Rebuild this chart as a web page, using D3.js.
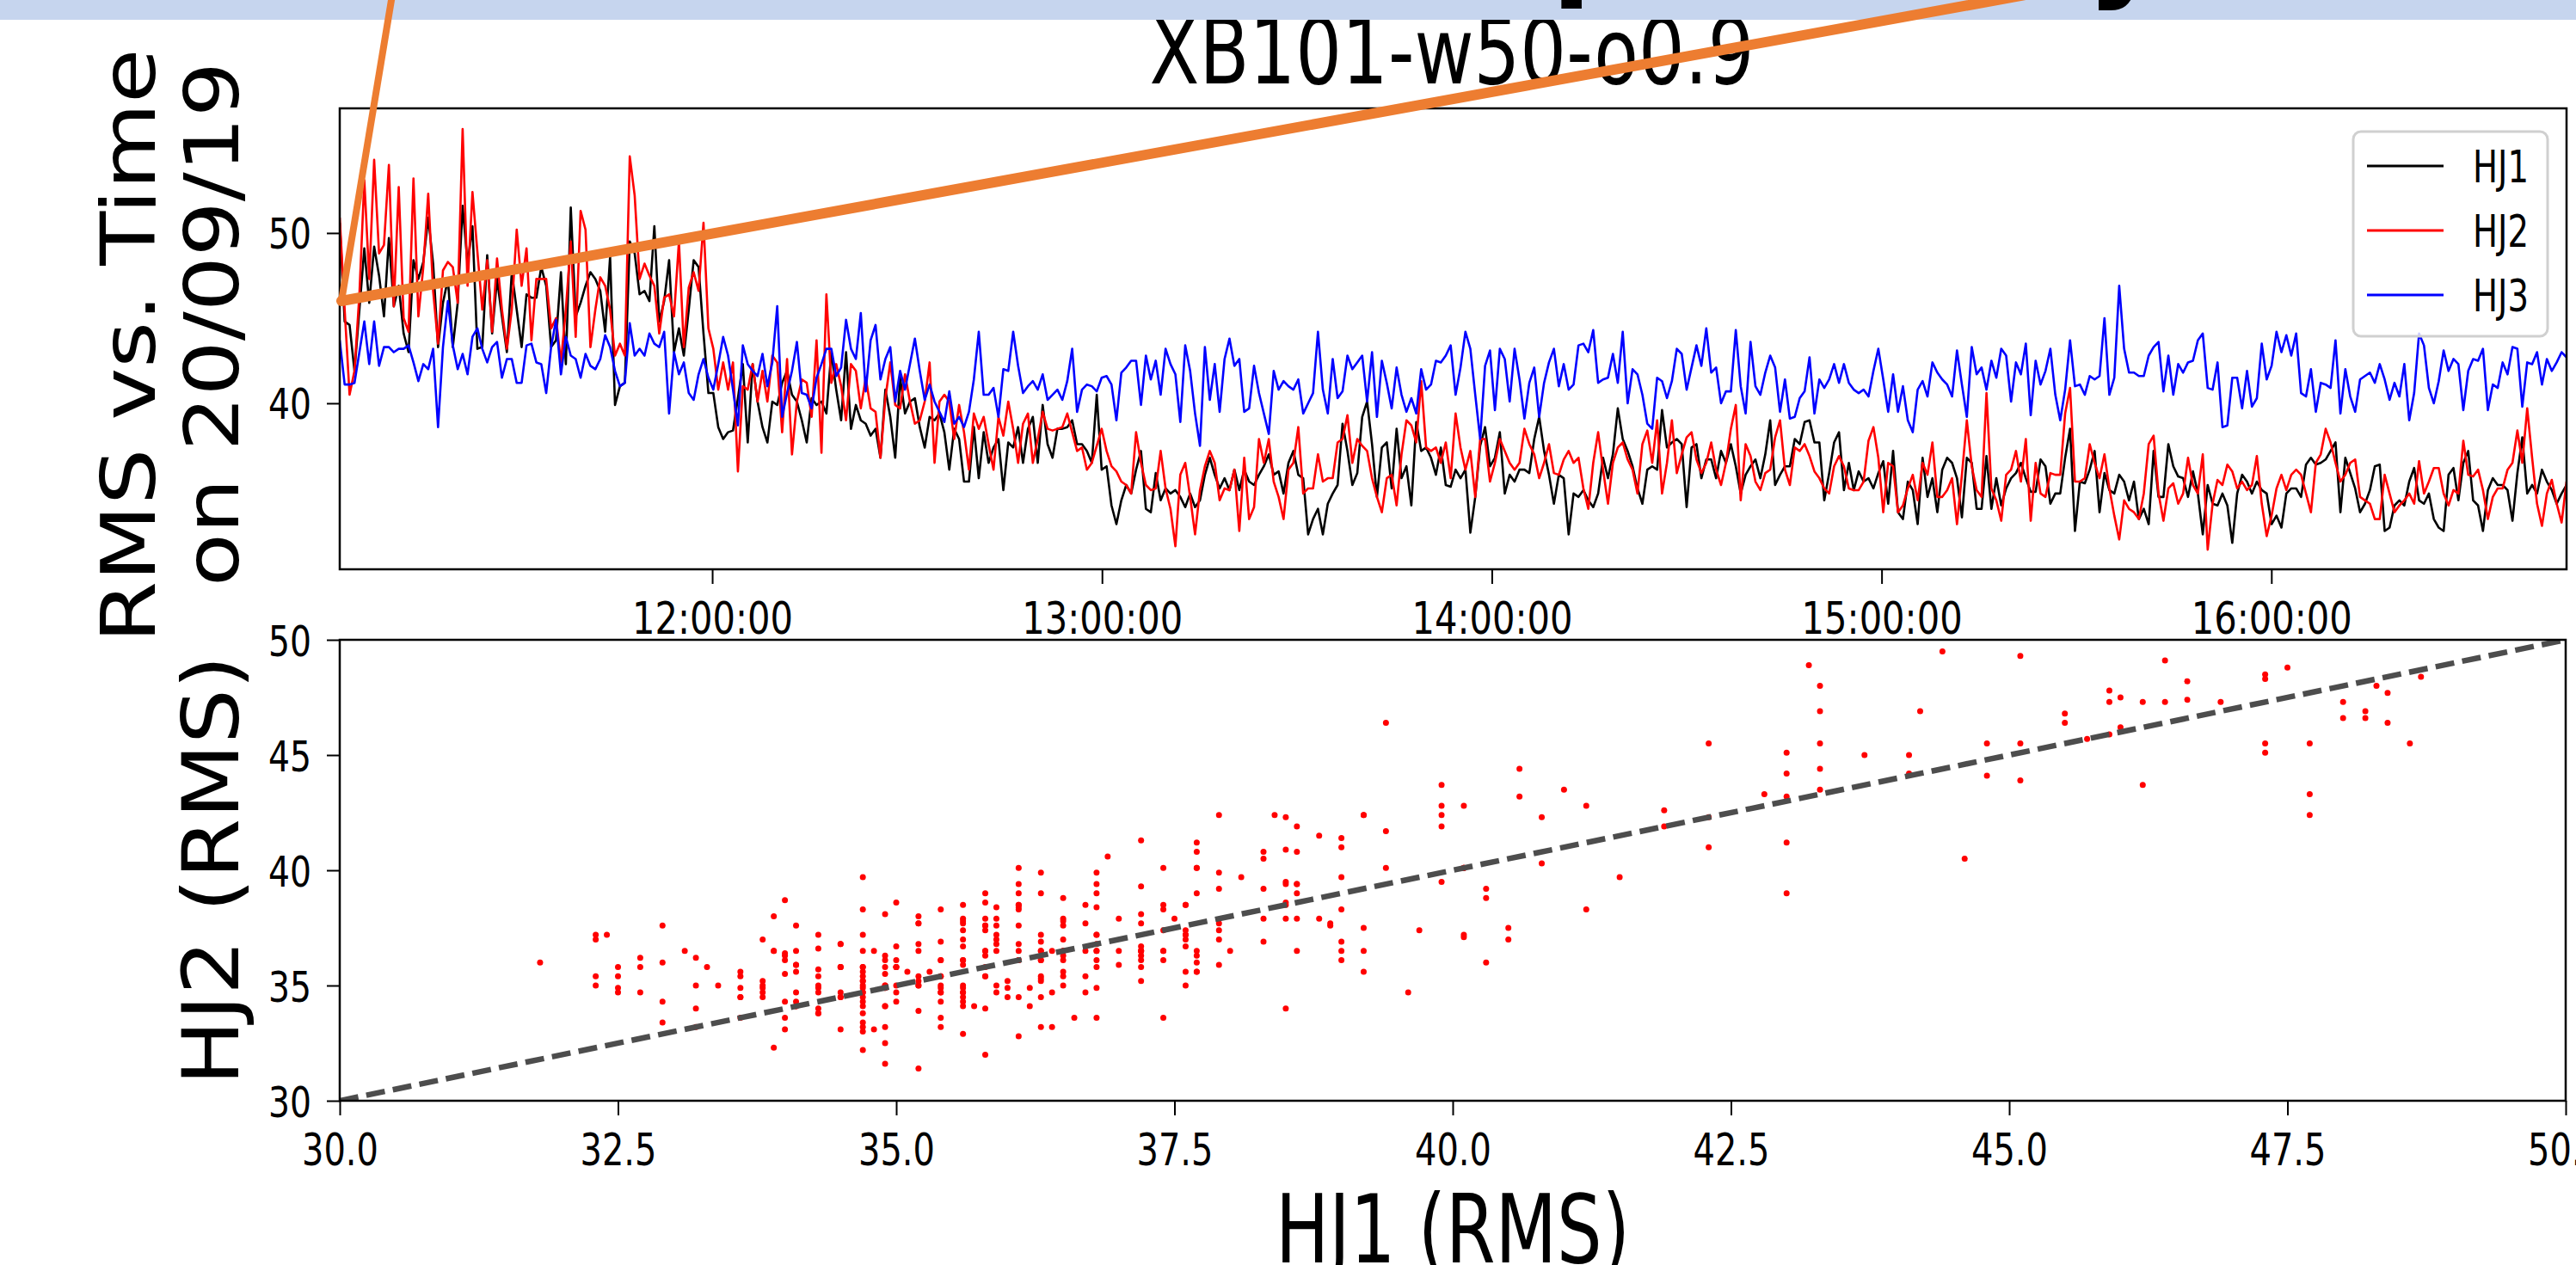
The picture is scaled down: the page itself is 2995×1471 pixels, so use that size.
<!DOCTYPE html>
<html><head><meta charset="utf-8">
<script src="https://cdn.jsdelivr.net/npm/d3@7"></script>
<style>html,body{margin:0;padding:0;background:#fff;}svg{display:block;}</style>
</head><body>
<svg id="chart" width="2995" height="1471"></svg>
<script>
// ---------------- DATA ----------------
const seriesNames = ["HJ1", "HJ2", "HJ3"];
const seriesColors = ["#000000", "#ff0000", "#0000ff"];
const startTime = "2019-09-20T11:02:40";
const sampleSeconds = 45.4;

const hj1 = [
50.6,44.8,44.6,41.9,45.5,49.1,45.9,49.2,47.5,45.1,
49.7,45.7,46.9,44.1,43.0,48.4,47.3,48.3,50.9,48.2,
43.3,45.9,47.3,43.3,45.9,51.6,48.2,50.4,43.2,43.3,
48.7,44.1,47.3,45.1,43.0,47.7,45.5,43.3,46.4,46.2,
46.2,48.0,46.9,43.3,43.7,47.7,42.3,51.5,45.1,45.9,
46.9,47.7,47.3,46.6,44.2,48.6,39.9,41.0,41.2,49.5,
48.8,46.4,46.6,46.0,50.4,44.8,46.0,48.4,43.0,44.4,
42.8,45.5,48.4,48.0,44.1,40.6,40.6,38.6,37.9,38.3,
38.4,40.3,42.3,37.7,42.3,40.1,38.6,37.7,40.1,39.9,
41.2,41.9,40.5,40.1,39.0,37.7,40.3,39.9,40.1,39.4,
43.0,40.8,39.0,43.0,38.5,39.9,39.0,38.8,38.1,38.5,
36.8,40.8,39.2,36.8,41.5,39.4,40.1,40.3,38.6,37.4,
39.2,39.0,39.4,38.3,36.1,38.5,37.9,35.4,35.4,38.6,
35.6,38.3,36.5,37.4,37.9,34.9,37.7,37.4,38.6,36.5,
38.5,39.2,36.5,39.9,37.6,36.8,38.5,38.5,38.6,39.0,
37.6,37.6,37.2,
36.5,40.5,36.1,36.3,34.0,32.9,34.3,35.2,34.7,36.1,
37.2,33.8,33.6,35.9,34.3,35.0,34.7,34.9,34.5,33.9,
34.7,33.9,34.3,35.8,36.8,35.8,35.0,35.6,34.9,36.1,
34.9,36.1,35.4,35.2,35.8,36.3,37.0,35.8,36.0,34.7,
36.5,37.2,35.8,35.6,32.3,33.2,33.8,32.3,34.1,34.7,
35.2,38.8,37.2,35.2,35.9,39.2,40.1,37.6,34.5,37.4,
37.7,35.0,38.5,35.6,36.3,34.0,38.9,37.2,37.4,36.8,
35.8,37.4,35.2,35.1,36.1,35.6,36.1,32.4,34.5,37.5,
38.6,36.3,36.8,38.3,34.7,35.8,35.4,36.1,36.1,35.9,
37.9,39.2,37.2,35.8,34.1,35.8,35.6,32.3,34.7,34.5,
34.9,34.3,33.9,34.7,36.8,35.6,37.0,39.7,37.9,37.2,
36.3,35.0,34.1,36.1,36.3,36.1,39.6,37.4,37.7,37.9,
37.6,33.9,37.4,37.6,35.6,36.7,36.7,35.6,37.2,36.5,
37.6,36.3,34.7,35.8,36.3,36.7,35.6,37.0,39.0,35.2,
35.8,36.3,36.3,37.9,37.6,38.9,39.0,37.7,37.7,34.3,
35.9,37.7,38.3,34.9,36.5,34.9,36.0,35.4,35.6,
35.0,35.9,36.6,34.1,37.2,33.6,33.2,35.4,34.9,32.9,
36.8,34.5,35.6,33.6,36.1,36.8,36.5,35.6,33.3,36.8,
36.5,33.8,33.8,36.9,33.8,35.6,34.0,35.0,35.6,35.9,
36.5,35.6,34.8,34.8,36.7,36.3,34.1,34.7,34.7,36.8,
38.5,32.5,35.4,35.3,36.1,37.2,33.6,35.9,34.9,34.7,
35.8,35.4,34.3,35.4,33.2,33.8,32.9,37.2,34.5,34.5,
37.6,36.3,35.7,35.6,34.5,36.0,34.7,32.3,35.2,34.1,
34.0,34.7,34.0,31.8,34.7,35.8,35.4,34.7,35.4,34.9,
34.7,32.9,33.4,32.7,34.7,35.0,35.0,34.5,36.4,36.8,
36.4,36.5,36.7,37.2,37.7,33.6,36.8,35.9,35.0,33.6,
34.1,34.9,36.3,36.4,32.5,32.7,34.0,34.3,34.0,35.4,
36.2,34.3,34.1,34.7,33.2,32.7,32.5,35.8,36.2,34.3,
36.5,37.2,34.3,34.0,32.5,34.9,35.6,35.2,35.2,34.9,
33.1,35.9,38.0,34.7,35.2,34.7,36.1,35.4,34.9,34.1,
34.7,35.2
];

const hj2 = [
50.9,45.5,40.5,41.9,46.4,53.1,47.3,54.3,48.8,49.3,
54.0,45.7,52.7,45.0,44.2,53.2,45.1,48.0,52.3,46.6,
43.5,47.8,48.3,48.0,45.9,56.1,46.9,52.4,48.9,45.5,
48.4,44.2,48.5,45.5,43.2,45.5,50.2,46.9,49.1,43.7,
47.3,47.3,47.3,44.4,45.0,42.4,45.5,49.5,43.9,51.3,
50.2,43.3,45.5,47.4,46.9,45.5,42.8,43.5,42.8,54.5,
52.2,47.3,48.2,47.5,46.9,44.1,46.2,46.4,45.1,49.5,
43.3,46.8,47.7,46.6,50.6,44.4,43.2,40.8,42.4,40.8,
42.4,36.0,41.0,40.8,42.3,40.1,41.9,40.1,42.8,42.4,
38.3,42.6,37.0,40.1,41.4,41.2,39.2,43.7,37.1,46.4,
41.2,42.3,41.0,39.0,42.3,41.9,39.7,41.5,39.7,39.5,
36.8,40.3,42.4,39.9,39.7,41.7,40.1,38.8,39.0,40.1,
42.4,36.5,40.1,40.5,40.1,37.9,39.9,38.3,36.1,39.4,
38.5,39.2,37.6,36.1,39.2,38.1,40.1,38.5,36.5,38.8,
39.4,36.5,37.9,39.5,38.5,38.4,38.5,38.6,39.4,38.3,
37.2,37.4,36.1,
36.5,37.5,38.5,37.2,36.3,36.0,35.4,35.2,34.7,38.3,
36.5,35.2,34.9,35.0,37.2,35.0,33.8,31.6,35.8,36.5,
34.5,32.3,34.9,36.3,37.2,36.5,34.3,35.0,34.9,36.1,
32.5,36.8,33.2,33.9,37.9,36.5,37.9,35.4,34.5,33.2,
36.1,36.5,38.6,34.7,35.0,35.0,37.0,35.4,35.6,35.6,
37.7,37.9,39.3,36.5,37.9,37.5,37.2,35.6,34.5,33.6,
35.6,35.8,34.0,37.0,39.0,38.7,37.7,41.3,37.4,37.2,
37.4,36.5,37.7,35.6,39.4,37.4,36.1,37.2,34.5,37.9,
37.9,35.4,36.5,37.9,37.2,36.5,36.1,36.5,38.5,37.6,
37.0,35.6,36.5,37.6,35.9,35.8,36.7,37.2,36.5,36.8,
35.0,33.8,36.5,38.3,36.1,34.1,36.5,37.4,37.7,36.7,
36.1,34.7,37.6,38.4,36.5,39.0,34.7,36.5,39.0,35.9,
37.0,38.0,38.3,36.7,35.9,36.5,37.7,36.1,35.2,36.5,
38.5,39.9,34.3,37.6,36.9,35.4,34.9,35.9,36.1,38.0,
39.0,36.1,35.2,37.4,37.2,37.6,36.9,36.0,35.6,35.0,
34.7,36.3,36.9,36.3,35.0,34.9,34.9,35.4,37.8,
38.6,36.8,33.6,36.5,36.3,33.6,34.0,35.0,35.8,34.3,
36.5,35.8,37.7,34.5,34.5,34.9,35.6,32.9,35.8,39.0,
36.3,34.9,34.5,40.6,35.0,34.3,33.1,35.8,36.1,37.2,
35.4,37.9,33.1,36.5,34.7,34.5,35.9,35.8,35.8,39.4,
40.9,35.4,35.4,35.6,37.6,36.5,35.6,37.0,35.0,33.4,
32.0,34.3,33.8,33.6,33.2,34.7,37.6,38.1,34.7,33.1,
35.0,35.3,34.1,34.7,36.8,35.2,34.7,37.0,31.4,34.1,
35.5,35.2,36.4,36.0,35.0,35.4,34.9,35.2,36.9,34.1,
32.2,33.4,35.0,35.8,34.9,35.8,36.1,35.8,34.7,33.6,
36.5,37.0,38.5,37.7,36.5,35.4,35.8,36.5,36.7,34.5,
34.3,34.1,33.2,33.2,35.8,34.7,33.6,34.0,34.3,34.7,
34.1,36.6,34.7,35.4,36.2,36.2,34.7,34.0,34.9,34.7,
37.8,35.8,35.7,36.1,34.9,33.2,34.5,35.0,35.0,36.1,
36.5,38.4,36.5,39.7,36.8,34.1,32.8,34.7,35.5,34.1,
33.0,35.4
];

const hj3 = [
43.7,41.1,41.1,41.2,43.0,44.8,42.3,44.8,42.2,43.3,
43.3,43.0,43.2,43.2,43.4,42.4,41.3,42.3,42.0,43.2,
38.6,43.3,46.0,43.4,42.0,42.9,41.7,43.9,44.4,43.2,
42.4,43.3,43.6,41.5,42.6,42.6,41.2,41.2,43.4,43.5,
42.4,42.3,40.6,43.3,44.9,41.7,43.9,42.8,42.6,41.5,
42.9,42.2,42.0,42.6,44.0,43.3,41.9,41.0,41.2,44.7,
42.8,43.2,42.8,44.1,43.5,43.3,44.2,39.4,43.0,41.7,
42.4,40.6,40.2,41.7,42.6,41.5,40.8,42.3,43.9,42.8,
40.8,38.7,43.4,42.3,41.9,41.6,42.9,41.0,42.4,45.7,
39.2,40.6,41.9,43.6,40.6,40.5,39.7,41.5,42.3,43.2,
43.2,41.6,42.1,44.9,43.2,42.6,45.3,40.7,43.7,44.6,
41.4,42.6,43.3,40.1,41.9,40.8,42.3,43.8,41.9,40.2,
41.1,40.1,39.5,38.9,40.7,38.8,39.2,38.6,39.5,41.4,
44.2,40.5,40.5,40.9,39.2,42.0,41.9,44.2,42.2,40.6,
41.0,41.3,40.8,41.7,40.2,40.5,40.8,40.2,41.3,43.2,
39.5,40.8,41.1,
41.0,40.7,41.5,41.6,41.1,39.0,41.8,42.1,42.5,42.5,
39.9,42.8,41.4,42.5,40.5,43.2,42.3,41.7,38.9,43.4,
41.9,39.4,37.5,43.3,40.2,42.3,39.5,42.6,43.8,42.2,
42.6,39.5,39.7,42.2,40.6,39.4,38.2,41.9,40.8,41.3,
41.0,40.8,41.4,39.4,40.0,40.6,44.2,40.8,39.4,42.6,
40.3,40.7,42.8,42.0,42.4,42.8,40.1,43.0,39.2,42.5,
41.2,39.7,42.1,40.5,39.5,40.3,39.4,42.0,40.8,41.1,
42.5,42.4,42.8,43.4,40.5,42.1,44.2,43.2,40.5,37.9,
42.2,43.1,39.6,43.2,42.6,40.1,43.2,41.4,39.1,41.2,
42.1,39.2,41.2,42.4,43.2,41.0,42.3,40.8,41.1,43.4,
43.5,43.0,44.3,41.2,41.4,41.5,42.9,41.2,44.2,40.0,
42.0,41.7,40.5,38.8,38.5,41.5,41.3,40.3,41.3,43.2,
42.9,40.8,42.1,43.4,42.2,44.4,41.8,42.1,40.0,40.7,
40.7,44.3,41.0,39.4,43.6,41.0,40.5,41.8,42.8,42.1,
39.5,41.4,39.1,39.2,40.3,40.7,42.7,39.4,41.4,40.9,
41.4,42.3,41.2,42.3,41.2,40.8,40.6,40.8,40.4,
41.9,43.2,41.4,39.5,41.7,39.5,41.0,39.0,38.3,40.8,
41.3,40.4,42.4,41.8,41.4,41.1,40.4,43.1,41.1,39.2,
43.3,41.7,42.1,40.8,42.5,41.5,43.2,42.8,40.1,42.4,
41.7,43.5,39.3,42.5,41.1,41.9,43.2,40.5,39.0,40.8,
43.7,41.0,41.1,40.5,41.6,41.4,41.6,45.0,40.5,41.5,
46.9,43.2,41.8,41.8,41.6,41.6,42.8,43.3,43.6,40.7,
42.8,40.5,42.3,41.8,42.4,42.5,43.7,44.1,40.9,40.8,
42.4,38.6,38.7,41.5,41.5,39.7,41.9,39.8,40.3,43.5,
41.4,42.2,44.2,43.0,44.0,42.8,44.1,40.6,40.4,42.0,
39.5,41.2,41.1,40.9,43.7,39.4,42.0,40.4,39.5,41.4,
41.6,41.8,41.2,42.3,41.4,40.2,41.2,40.4,42.3,39.0,
40.6,44.1,43.4,40.9,40.0,41.3,43.1,41.9,42.6,42.3,
39.6,41.9,42.6,42.5,43.2,39.6,41.1,40.9,42.4,41.7,
43.3,43.2,39.8,42.4,42.3,43.0,41.1,42.6,41.9,42.4,
43.0,42.7
];

const timeTickLabels = ["2019-09-20T12:00:00", "2019-09-20T13:00:00", "2019-09-20T14:00:00", "2019-09-20T15:00:00", "2019-09-20T16:00:00"];
const timeYTicks = [40, 50];
const scatterXTicks = [30, 32.5, 35, 37.5, 40, 42.5, 45, 47.5, 50];
const scatterYTicks = [30, 35, 40, 45, 50];
const refLine = [30, 50];
const chartTitle = "XB101-w50-o0.9";
const topYLabel = ["RMS vs. Time", "on 20/09/19"];
const scatterXLabel = "HJ1 (RMS)";
const scatterYLabel = "HJ2 (RMS)";

// ---------------- DRAW ----------------
const FONT = "DejaVu Sans, Verdana, sans-serif";
const svg = d3.select("#chart");
const N = hj1.length;
const t0 = new Date(startTime);
const times = d3.range(N).map(i => new Date(t0.getTime() + i * sampleSeconds * 1000));
const series = [hj1, hj2, hj3];

const P = {left: 395, right: 2984, top1: 126, bottom1: 662, top2: 744, bottom2: 1280};

const defs = svg.append("defs");
defs.append("clipPath").attr("id", "clipTop").append("rect")
  .attr("x", P.left).attr("y", P.top1).attr("width", P.right - P.left).attr("height", P.bottom1 - P.top1);
defs.append("clipPath").attr("id", "clipBot").append("rect")
  .attr("x", P.left).attr("y", P.top2).attr("width", P.right - P.left).attr("height", P.bottom2 - P.top2);

// ---- top time-series axes
const x1 = d3.scaleTime().domain([times[0], times[N - 1]]).range([P.left, P.right]);
const y1 = d3.scaleLinear().domain([30.25, 57.32]).range([P.bottom1, P.top1]);

const gLines = svg.append("g").attr("clip-path", "url(#clipTop)");
series.forEach((s, k) => {
  gLines.append("path")
    .datum(s)
    .attr("fill", "none")
    .attr("stroke", seriesColors[k])
    .attr("stroke-width", 2.6)
    .attr("stroke-linejoin", "round")
    .attr("d", d3.line().x((d, i) => x1(times[i])).y(d => y1(d)));
});

function styleAxis(g) {
  g.attr("font-family", FONT);
  g.select(".domain").remove();
  g.selectAll(".tick line").attr("stroke", "#000").attr("stroke-width", 2);
  g.selectAll(".tick text").attr("fill", "#000");
}

const gx1 = svg.append("g").attr("transform", `translate(0,${P.bottom1})`)
  .call(d3.axisBottom(x1).tickValues(timeTickLabels.map(s => new Date(s)))
    .tickFormat(d3.timeFormat("%H:%M:%S")).tickSize(17).tickSizeOuter(0));
styleAxis(gx1);
gx1.selectAll(".tick text").attr("y", 75).attr("dy", null).attr("font-size", 52)
  .attr("textLength", 187).attr("lengthAdjust", "spacingAndGlyphs");

const gy1 = svg.append("g").attr("transform", `translate(${P.left},0)`)
  .call(d3.axisLeft(y1).tickValues(timeYTicks).tickFormat(d3.format("d")).tickSize(15).tickSizeOuter(0));
styleAxis(gy1);
gy1.selectAll(".tick text").attr("x", -33).attr("dy", "0.36em").attr("font-size", 50)
  .attr("textLength", 50).attr("lengthAdjust", "spacingAndGlyphs");

svg.append("rect").attr("x", P.left).attr("y", P.top1).attr("width", P.right - P.left)
  .attr("height", P.bottom1 - P.top1).attr("fill", "none").attr("stroke", "#000").attr("stroke-width", 2.5);

// legend
const lg = svg.append("g").attr("font-family", FONT);
lg.append("rect").attr("x", 2736).attr("y", 153).attr("width", 226).attr("height", 238)
  .attr("rx", 9).attr("ry", 9).attr("fill", "#fff").attr("fill-opacity", 0.8)
  .attr("stroke", "#d0d0d0").attr("stroke-width", 3);
seriesNames.forEach((name, k) => {
  const yy = 193 + k * 75;
  lg.append("line").attr("x1", 2752).attr("x2", 2841).attr("y1", yy).attr("y2", yy)
    .attr("stroke", seriesColors[k]).attr("stroke-width", 3);
  lg.append("text").attr("x", 2875).attr("y", yy + 19).attr("font-size", 51)
    .attr("textLength", 65).attr("lengthAdjust", "spacingAndGlyphs").attr("fill", "#000").text(name);
});

// ---- scatter axes
const x2 = d3.scaleLinear().domain([30, 50]).range([P.left, 2983]);
const y2 = d3.scaleLinear().domain([30, 50]).range([P.bottom2, P.top2]);
const pts = d3.range(N).map(i => [hj1[i], hj2[i]]);
const gPts = svg.append("g").attr("clip-path", "url(#clipBot)");
gPts.selectAll("circle").data(pts).join("circle")
  .attr("cx", d => x2(d[0])).attr("cy", d => y2(d[1])).attr("r", 3.5).attr("fill", "#ff0000");
gPts.append("line")
  .attr("x1", x2(refLine[0])).attr("y1", y2(refLine[0]))
  .attr("x2", x2(refLine[1])).attr("y2", y2(refLine[1]))
  .attr("stroke", "#4d4d4d").attr("stroke-width", 6.5).attr("stroke-dasharray", "22,9.5");

const gx2 = svg.append("g").attr("transform", `translate(0,${P.bottom2})`)
  .call(d3.axisBottom(x2).tickValues(scatterXTicks).tickFormat(d3.format(".1f")).tickSize(17).tickSizeOuter(0));
styleAxis(gx2);
gx2.selectAll(".tick text").attr("y", 75).attr("dy", null).attr("font-size", 52)
  .attr("textLength", 89).attr("lengthAdjust", "spacingAndGlyphs");

const gy2 = svg.append("g").attr("transform", `translate(${P.left},0)`)
  .call(d3.axisLeft(y2).tickValues(scatterYTicks).tickFormat(d3.format("d")).tickSize(15).tickSizeOuter(0));
styleAxis(gy2);
gy2.selectAll(".tick text").attr("x", -33).attr("dy", "0.36em").attr("font-size", 50)
  .attr("textLength", 50).attr("lengthAdjust", "spacingAndGlyphs");

svg.append("rect").attr("x", P.left).attr("y", P.top2).attr("width", 2983 - P.left)
  .attr("height", P.bottom2 - P.top2).attr("fill", "none").attr("stroke", "#000").attr("stroke-width", 2.5);

// ---- labels
const txt = svg.append("g").attr("font-family", FONT).attr("fill", "#000");
txt.append("text").attr("transform", "translate(180,402) rotate(-90)").attr("text-anchor", "middle")
  .attr("font-size", 87).attr("textLength", 691).attr("lengthAdjust", "spacingAndGlyphs").text(topYLabel[0]);
txt.append("text").attr("transform", "translate(277,377) rotate(-90)").attr("text-anchor", "middle")
  .attr("font-size", 87).attr("textLength", 610).attr("lengthAdjust", "spacingAndGlyphs").text(topYLabel[1]);
txt.append("text").attr("transform", "translate(277,1012) rotate(-90)").attr("text-anchor", "middle")
  .attr("font-size", 90).attr("textLength", 500).attr("lengthAdjust", "spacingAndGlyphs").text(scatterYLabel);
txt.append("text").attr("x", 1689).attr("y", 1468).attr("text-anchor", "middle")
  .attr("font-size", 110).attr("textLength", 412).attr("lengthAdjust", "spacingAndGlyphs").text(scatterXLabel);
txt.append("text").attr("x", 1688).attr("y", 97).attr("text-anchor", "middle")
  .attr("font-size", 107).attr("textLength", 703).attr("lengthAdjust", "spacingAndGlyphs").text(chartTitle);

// ---- slide banner and annotation overlay
svg.append("rect").attr("x", 0).attr("y", 0).attr("width", 2995).attr("height", 23).attr("fill", "#c6d5ee");
const ban = svg.append("g").attr("font-family", FONT).attr("font-weight", "bold").attr("fill", "#000");
ban.append("text").attr("x", 1804).attr("y", -18).attr("font-size", 135).text("p");
ban.append("text").attr("x", 2426).attr("y", -18).attr("font-size", 140).text("y");

const ov = svg.append("g").attr("stroke", "#ed7d31").attr("fill", "none");
ov.append("line").attr("x1", 456.7).attr("y1", -10).attr("x2", 397).attr("y2", 350).attr("stroke-width", 8);
ov.append("line").attr("x1", 397).attr("y1", 350).attr("x2", 2377).attr("y2", -10)
  .attr("stroke-width", 12).attr("stroke-linecap", "round");
</script>
</body></html>
